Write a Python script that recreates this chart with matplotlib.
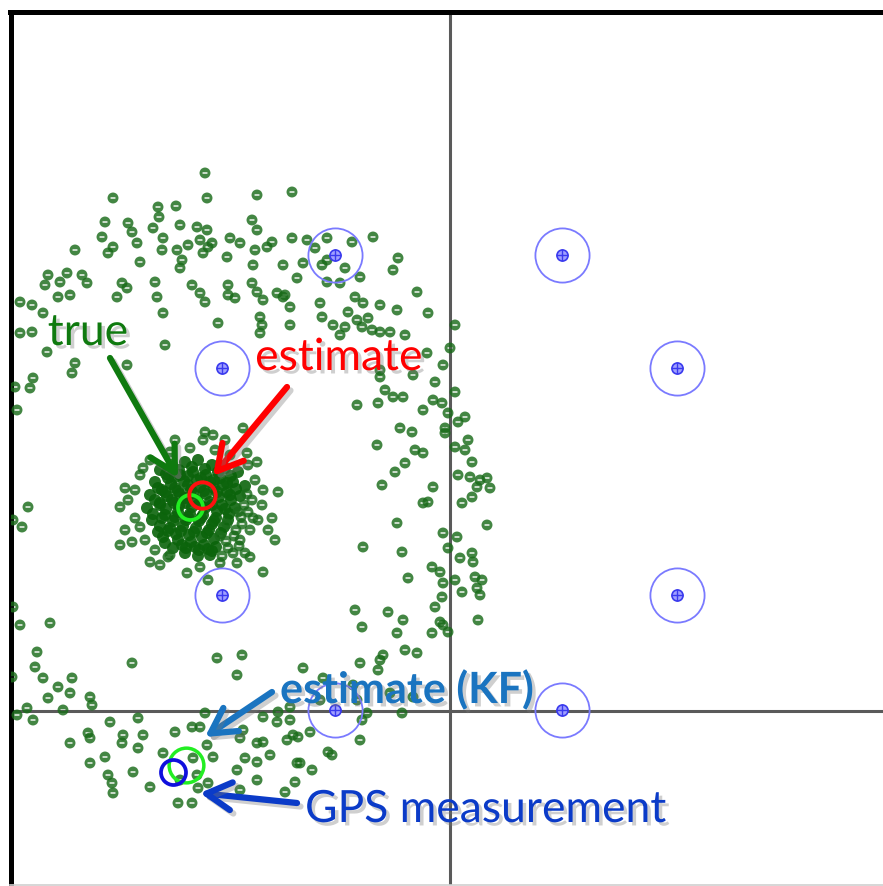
import numpy as np
import matplotlib.pyplot as plt
import matplotlib.patheffects as pe
from matplotlib.path import Path

plt.rcParams['font.family'] = ['Lato', 'DejaVu Sans']

# map coordinates: x to the right, y grows downward
landmark_x = [335, 562, 222, 677, 222, 677, 335, 562]
landmark_y = [255, 255, 368, 368, 595, 595, 710, 710]
axis_x, axis_y = 450, 711

# particles spread around the ring of possible positions
particles_ring = [
    (205, 173), (113, 198), (207, 198), (257, 195), (292, 192), (158, 207), (176, 206),
    (159, 217), (105, 222), (128, 223), (153, 228), (180, 225), (197, 227), (207, 230),
    (252, 220), (102, 237), (132, 232), (137, 243), (113, 247), (108, 253), (163, 238),
    (162, 250), (177, 250), (188, 245), (200, 240), (208, 247), (203, 253), (212, 243),
    (230, 238), (240, 243), (257, 230), (255, 250), (267, 247), (272, 242), (292, 238),
    (75, 250), (227, 257), (140, 262), (182, 260), (180, 268), (253, 265), (283, 265),
    (297, 278), (48, 275), (67, 273), (60, 282), (45, 285), (82, 275), (87, 283),
    (58, 297), (70, 295), (122, 283), (127, 288), (117, 297), (155, 282), (157, 297),
    (163, 313), (192, 285), (200, 293), (205, 302), (228, 285), (228, 295), (235, 298),
    (252, 283), (257, 292), (263, 300), (277, 293), (283, 297), (290, 307), (20, 302),
    (32, 305), (43, 313), (20, 333), (32, 332), (218, 323), (260, 317), (262, 325),
    (260, 333), (290, 325), (47, 352), (165, 345),
    (307, 240), (327, 238), (352, 242), (373, 237), (315, 248), (303, 263), (322, 265),
    (327, 260), (345, 268), (360, 277), (327, 282), (340, 283), (398, 258), (393, 270),
    (285, 295), (320, 303), (322, 317), (355, 297), (363, 303), (380, 305), (397, 310),
    (417, 292), (428, 313), (348, 312), (357, 320), (368, 318), (362, 327), (333, 325),
    (345, 327), (340, 335), (372, 330), (380, 332), (390, 332), (405, 335), (455, 325),
    (450, 348), (427, 353),
    (443, 365), (413, 375), (435, 382), (380, 377), (380, 370), (385, 390), (393, 397),
    (403, 397), (357, 405), (378, 403), (455, 392), (433, 400), (442, 403), (423, 410),
    (448, 413), (465, 417), (458, 422), (445, 428), (445, 433), (400, 428), (412, 432),
    (468, 440), (455, 447), (465, 450), (377, 445), (415, 450), (423, 453), (472, 462),
    (405, 463), (395, 472), (458, 475), (470, 477), (480, 480), (487, 478), (490, 488),
    (477, 487), (382, 485), (433, 487), (472, 497), (462, 503), (428, 502), (423, 503),
    (487, 525), (397, 523), (443, 533), (457, 537), (448, 548), (363, 547), (402, 552),
    (460, 558), (472, 553), (473, 562), (432, 567), (440, 572), (408, 578), (443, 583),
    (455, 580), (475, 577), (482, 580), (477, 588), (480, 595), (462, 592), (442, 597),
    (435, 607), (355, 610), (388, 612), (403, 620), (478, 620), (440, 622), (362, 627),
    (75, 363), (72, 373), (33, 378), (30, 388), (15, 387), (127, 365), (17, 410),
    (28, 507), (22, 527), (13, 520),
    (13, 607), (20, 625), (50, 623), (37, 652), (35, 667), (43, 678), (72, 678),
    (58, 687), (70, 693), (48, 698), (90, 697), (92, 705), (12, 677), (132, 663),
    (17, 715), (27, 708), (33, 720), (63, 710), (110, 722), (138, 718), (88, 733),
    (90, 738), (70, 743), (123, 735), (122, 743), (143, 735), (138, 748), (105, 757),
    (90, 763), (108, 775), (112, 783), (113, 793), (133, 772), (150, 787), (175, 732),
    (192, 727), (200, 727), (205, 713), (163, 753), (193, 758), (207, 745), (213, 757),
    (197, 775), (180, 780), (208, 783), (198, 788), (178, 803), (192, 803), (217, 658),
    (242, 655), (237, 675), (243, 730), (240, 738), (257, 743), (263, 742), (245, 758),
    (257, 762), (270, 755), (237, 770), (257, 780), (240, 790), (285, 792), (295, 782),
    (287, 740), (293, 735), (277, 722), (290, 720), (263, 717), (278, 712), (297, 763),
    (397, 633), (432, 633), (443, 625), (448, 632), (405, 650), (417, 653), (383, 655),
    (380, 660), (360, 663), (303, 668), (378, 670), (323, 678), (353, 685), (390, 693),
    (413, 697), (357, 700), (320, 700), (290, 707), (367, 713), (402, 713), (362, 720),
    (310, 732), (298, 737), (360, 740), (328, 752), (332, 755), (300, 763), (312, 770),
]

# tightly packed particles at the centre of the converged cloud
particles_core = [
    (160, 470), (172, 465), (185, 462), (198, 460), (212, 465), (225, 468), (238, 472),
    (155, 482), (168, 478), (180, 475), (193, 472), (206, 475), (220, 478), (233, 482),
    (245, 486), (150, 495), (162, 490), (175, 488), (188, 485), (200, 487), (214, 488),
    (227, 492), (240, 496), (147, 508), (160, 503), (172, 500), (185, 498),
    (197, 500), (210, 502), (222, 505), (235, 508), (152, 520), (165, 515),
    (178, 512), (190, 514), (203, 515), (216, 518), (228, 520), (158, 532),
    (170, 528), (183, 526), (196, 528), (209, 530), (221, 533), (165, 543),
    (178, 540), (191, 542), (204, 545), (216, 547), (185, 553), (198, 556),
    (210, 555),
    (166, 474), (179, 470), (192, 467), (205, 469), (218, 472), (231, 476), (158, 488),
    (171, 484), (184, 481), (197, 480), (210, 482), (223, 485), (236, 489),
    (155, 500), (167, 496), (180, 494), (193, 493), (206, 494), (219, 497), (231, 500),
    (153, 514), (166, 509), (179, 506), (192, 507), (205, 508), (217, 511),
    (229, 514), (160, 526), (173, 521), (186, 520), (199, 521),
    (212, 524), (224, 527), (163, 537), (176, 534), (189, 535), (202, 537),
    (214, 539), (173, 548), (186, 548), (199, 550), (212, 551),
    (175, 477), (188, 476), (201, 478), (214, 480), (227, 483), (165, 492), (178, 491),
    (191, 490), (204, 491), (217, 492), (230, 495), (160, 505), (174, 503), (186, 503),
    (199, 504), (212, 505), (225, 509), (162, 518), (175, 517), (188, 517),
    (201, 518), (214, 521), (168, 531), (181, 531), (194, 532), (207, 533),
    (182, 545), (195, 547), (208, 549),
]

# looser particles around the edge of the cloud
particles_cloud = [
    (252, 500), (248, 512), (242, 524), (234, 536), (228, 548), (247, 494), (244, 505),
    (241, 517), (253, 518), (236, 530), (226, 541), (239, 546), (222, 556), (238, 512),
    (227, 524), (220, 536),
    (140, 475), (135, 490), (128, 500), (145, 540), (155, 550), (170, 555), (240, 540),
    (250, 530), (258, 520), (262, 505), (255, 480), (248, 465), (230, 455), (215, 450),
    (190, 448), (170, 452), (150, 460), (203, 440), (175, 440), (225, 440), (263, 490),
    (268, 530), (160, 565), (220, 563), (245, 553), (125, 530),
    (205, 432), (213, 435), (243, 428), (143, 468), (125, 488), (120, 507), (278, 492),
    (272, 518), (275, 540), (120, 545), (132, 542), (150, 562), (187, 573), (200, 567),
    (208, 580), (237, 563), (250, 557), (263, 572), (257, 462), (247, 453), (135, 518),
    (140, 527), (168, 557), (233, 553),
]

true_pos = (190, 507)
pf_estimate = (202, 495)
kf_estimate = (186, 765)
gps_pos = (173, 772)

# particle glyph: disc with a small slot cut through the middle
circle = Path.unit_circle()
slot = Path([(-0.45, -0.13), (-0.45, 0.13), (0.45, 0.13), (0.45, -0.13), (-0.45, -0.13)],
            [Path.MOVETO, Path.LINETO, Path.LINETO, Path.LINETO, Path.CLOSEPOLY])
particle_marker = Path.make_compound_path(circle, slot)

W, H = 883, 886
fig = plt.figure(figsize=(W / 100, H / 100), dpi=100)
ax = fig.add_axes([10.5 / W, 1 / H, (890 - 10.5) / W, (885 - 11.5) / H])
ax.set_xlim(10.5, 890)
ax.set_ylim(885, 11.5)
ax.set_xticks([])
ax.set_yticks([])
for side in ['left', 'top']:
    ax.spines[side].set_linewidth(3.6)
    ax.spines[side].set_color('black')
ax.spines['right'].set_visible(False)
ax.spines['bottom'].set_color('#cfcfcf')
ax.spines['bottom'].set_linewidth(1.2)

ax.axvline(axis_x, color='#5a5a5a', lw=2.2, zorder=1)
ax.axhline(axis_y, color='#5a5a5a', lw=2.2, zorder=1)

core = np.array(particles_core)
ax.scatter(core[:, 0], core[:, 1], s=75, marker='o', facecolor='#0b640b',
           edgecolor='none', alpha=0.9, zorder=3)
pts = np.array(particles_ring + particles_cloud)
ax.scatter(pts[:, 0], pts[:, 1], s=62, marker=particle_marker, facecolor='#1a6c1a',
           edgecolor='none', alpha=0.82, zorder=3)

# landmarks
ax.plot(landmark_x, landmark_y, 'o', ms=39, mfc='none', mec='#7a7aff', mew=1.3, ls='none', zorder=4)
ax.plot(landmark_x, landmark_y, 'o', ms=8, mfc='#a0a0ff', mec='#3a3aee', mew=1.2, ls='none', zorder=4)
ax.plot(landmark_x, landmark_y, '+', ms=8, mec='#3a3aee', mew=1.0, ls='none', zorder=4)

# estimates
ax.plot(*true_pos, 'o', ms=18, mfc='none', mec='#22ee22', mew=2.7, zorder=5)
ax.plot(*pf_estimate, 'o', ms=19, mfc='none', mec='#ff1010', mew=2.8, zorder=5)
ax.plot(*kf_estimate, 'o', ms=25, mfc='none', mec='#22ee22', mew=2.5, zorder=5)
ax.plot(*gps_pos, 'o', ms=18, mfc='none', mec='#1010dd', mew=2.7, zorder=5)

txt_shadow = [pe.SimplePatchShadow(offset=(2.5, -2.5), shadow_rgbFace='#777777', alpha=0.35), pe.Normal()]
arrow_shadow = [pe.SimpleLineShadow(offset=(2.5, -2.5), shadow_color='#777777', alpha=0.35), pe.Normal()]


def label(text, tail, tip, pos, color, **kw):
    ax.annotate('', xy=tip, xytext=tail,
                arrowprops=dict(arrowstyle='->,head_length=0.9,head_width=0.5', lw=4.5,
                                color=color, shrinkA=0, shrinkB=0, mutation_scale=20,
                                path_effects=arrow_shadow), zorder=6)
    ax.text(pos[0], pos[1], text, color=color, ha='center', va='baseline',
            path_effects=txt_shadow, zorder=7, **kw)


label('true', (110, 358), (178, 478), (88, 345), '#0f7a0f', fontsize=32)
label('estimate', (287, 387), (213, 476), (339, 370), '#ff0000', fontsize=32)
label('estimate (KF)', (272, 692), (205, 737), (407, 703), '#1a74c0', fontsize=31, fontweight='bold')
label('GPS measurement', (297, 803), (200, 793), (486, 822), '#0b3bc8', fontsize=32)

fig.savefig('out.png', dpi=100)
